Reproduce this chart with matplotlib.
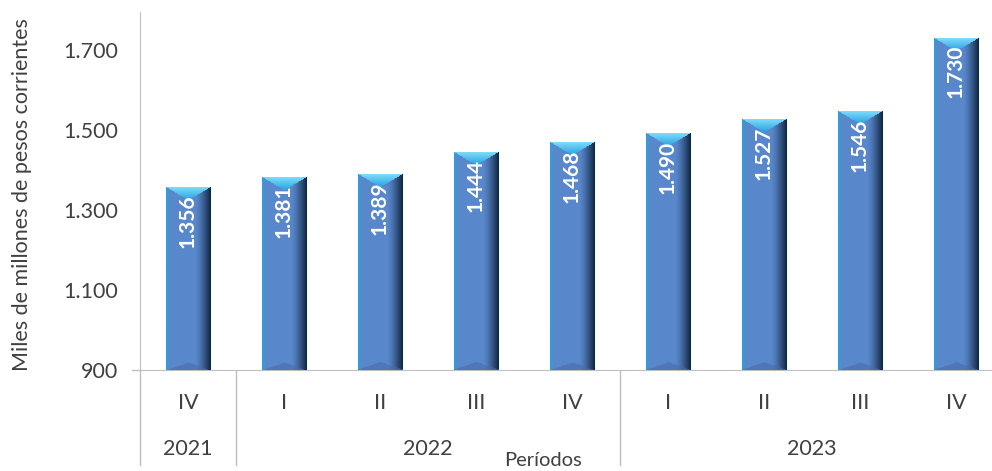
import numpy as np
import matplotlib
matplotlib.use("Agg")
import matplotlib.pyplot as plt
from matplotlib.lines import Line2D

# ---- data ----
quarters = ["IV", "I", "II", "III", "IV", "I", "II", "III", "IV"]
years = ["2021", "2022", "2023"]
year_counts = [1, 4, 4]
values = [1356, 1381, 1389, 1444, 1468, 1490, 1527, 1546, 1730]
yticks = [900, 1100, 1300, 1500, 1700]
ylabel = "Miles de millones de pesos corrientes"
xlabel = "Períodos"


def fmt(v):
    return f"{v:,}".replace(",", ".")


plt.rcParams["font.family"] = ["Lato", "DejaVu Sans"]
TXT = "#404040"
GRID = "#bfbfbf"

W, H = 992, 471
fig = plt.figure(figsize=(W / 100, H / 100), dpi=100)
ax = fig.add_axes([140 / W, 101 / H, 864 / W, 358 / H])
ymin, ymax = 900, 1795
n = len(values)
x = np.arange(n)
ax.set_xlim(-0.5, n - 0.5)
ax.set_ylim(ymin, ymax)
ax.set_autoscale_on(False)

bars = ax.bar(x, np.array(values) - ymin, bottom=ymin, width=0.46,
              color="#5a88cc", zorder=2)


def bar_image(wpx, hpx):
    nx, ny = max(int(round(wpx)), 2), max(int(round(hpx)), 2)
    u = (np.arange(nx) + 0.5) / nx
    d = np.arange(ny) + 0.5
    U, D = np.meshgrid(u, d)
    Bt = hpx - D
    img = np.ones((ny, nx, 3)) * np.array([0.35, 0.53, 0.80])
    # left highlight strip
    lm = U < 0.06
    img[lm] = np.array([0.22, 0.60, 0.84])
    # right dark shading
    t = (np.clip((U - 0.66) / 0.34, 0, 1) ** 1.3)[..., None]
    img = img * (1 - t) + np.array([0.05, 0.14, 0.24]) * t
    # top bevel (cyan chevron)
    depth = np.minimum(U, 1 - U) * nx * 0.6
    tm = D < depth
    f = np.clip(D / 14.0, 0, 1)[..., None]
    topc = np.array([0.50, 0.86, 0.98]) * (1 - f) + np.array([0.12, 0.62, 0.88]) * f
    img = np.where(tm[..., None], topc, img)
    # bottom bevel
    bm = Bt < np.minimum(U, 1 - U) * nx * 0.35
    botc = np.array([0.30, 0.42, 0.66])
    img = np.where(bm[..., None], botc * 0.6 + img * 0.4, img)
    return np.clip(img, 0, 1)


fig.canvas.draw()
for b, v in zip(bars, values):
    x0, y0 = b.get_x(), b.get_y()
    x1, y1 = x0 + b.get_width(), y0 + b.get_height()
    p0 = ax.transData.transform((x0, y0))
    p1 = ax.transData.transform((x1, y1))
    img = bar_image(p1[0] - p0[0], p1[1] - p0[1])
    ax.imshow(img, extent=(x0, x1, y0, y1), origin="upper", aspect="auto",
              interpolation="bilinear", zorder=3)
    ax.annotate(fmt(v), xy=(b.get_x() + b.get_width() / 2, y1),
                xytext=(0, -5), textcoords="offset points",
                rotation=90, ha="center", va="top", color="white",
                fontsize=15, fontweight="bold", zorder=4)

ax.set_xlim(-0.5, n - 0.5)
ax.set_ylim(ymin, ymax)

# axes styling
for s in ["top", "right"]:
    ax.spines[s].set_visible(False)
ax.spines["left"].set_color(GRID)
ax.spines["bottom"].set_color(GRID)
ax.set_xticks([])
ax.set_yticks(yticks)
ax.set_yticklabels([fmt(t) for t in yticks])
ax.tick_params(axis="y", length=0, pad=16, labelsize=15.5, labelcolor=TXT)

tr = ax.get_xaxis_transform()
# extended left line and separators
ax.add_line(Line2D([0, 0], [0, -0.265], transform=ax.transAxes, color=GRID,
                   lw=1, clip_on=False))
ax.add_line(Line2D([-8 / 864, 0], [0, 0], transform=ax.transAxes, color=GRID,
                   lw=1, clip_on=False))
start = 0
for i, (yr, c) in enumerate(zip(years, year_counts)):
    end = start + c
    if i > 0:
        ax.add_line(Line2D([start - 0.5, start - 0.5], [0, -0.265], transform=tr,
                           color=GRID, lw=1, clip_on=False))
    ax.text((start + end - 1) / 2, -0.221, yr, transform=tr, ha="center",
            va="center", fontsize=15.5, color=TXT)
    start = end

for xi, q in zip(x, quarters):
    ax.text(xi, -0.092, q, transform=tr, ha="center", va="center",
            fontsize=15.5, color=TXT)

fig.text(543 / W, 1 - 461 / H, xlabel, ha="center", va="center", fontsize=14.5,
         color=TXT)
fig.text(22 / W, 1 - 195 / H, ylabel, rotation=90, ha="center", va="center",
         fontsize=15.5, color=TXT)

fig.savefig("out.png", dpi=100)
